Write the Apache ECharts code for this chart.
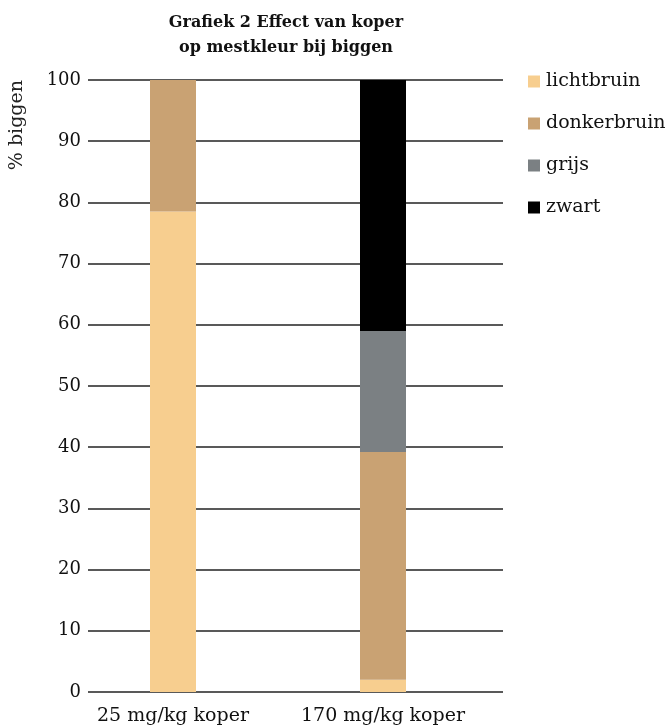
<!DOCTYPE html>
<html>
<head>
<meta charset="utf-8">
<script src="https://cdn.jsdelivr.net/npm/echarts@6/dist/echarts.min.js"></script>
<style>html,body{margin:0;padding:0;background:#fff;}#chart{width:670px;height:727px;}</style>
</head>
<body>
<div id="chart"></div>
<script>
const categories = ['25 mg/kg koper', '170 mg/kg koper'];
const seriesNames = ['lichtbruin', 'donkerbruin', 'grijs', 'zwart'];
const lichtbruin = [78.5, 2];
const donkerbruin = [21.5, 37.2];
const grijs = [0, 19.8];
const zwart = [0, 41];
const yTicks = [0, 100, 10];
const colors = ['#F7CE8F', '#C9A273', '#7B8083', '#000000'];
const FONT = 'DejaVu Serif';

const values = [lichtbruin, donkerbruin, grijs, zwart];
const chart = echarts.init(document.getElementById('chart'), null, {renderer: 'canvas'});
chart.setOption({
  animation: false,
  textStyle: {fontFamily: FONT},
  title: {
    text: 'Grafiek 2 Effect van koper\nop mestkleur bij biggen',
    left: 281, top: 5, textAlign: 'center',
    textStyle: {fontFamily: FONT, fontWeight: 'bold', fontSize: 16, lineHeight: 25, color: '#111'}
  },
  legend: {
    orient: 'vertical', left: 523, top: 67, itemWidth: 12, itemHeight: 12, itemGap: 23,
    icon: 'rect',
    data: seriesNames,
    textStyle: {fontFamily: FONT, fontSize: 19, color: '#111', padding: [0, 0, 0, 1]}
  },
  graphic: [{
    type: 'text', left: 8, top: 80, rotation: Math.PI / 2,
    style: {text: '% biggen', font: '19px "DejaVu Serif"', fill: '#222'}
  }],
  grid: [
    {left: 88, right: 167, top: 80, bottom: 35},
    {left: 68, right: 182, top: 80, bottom: 35}
  ],
  xAxis: [
    {type: 'category', gridIndex: 0, data: categories, show: false},
    {type: 'category', gridIndex: 1, data: categories,
     axisLine: {show: false}, axisTick: {show: false},
     axisLabel: {interval: 0, hideOverlap: false, fontFamily: FONT, fontSize: 19, color: '#111', margin: 15}}
  ],
  yAxis: [
    {type: 'value', gridIndex: 0, min: yTicks[0], max: yTicks[1], interval: yTicks[2],
     axisLine: {show: false}, axisTick: {show: false},
     axisLabel: {fontFamily: FONT, fontSize: 18, color: '#111', margin: 7},
     splitLine: {lineStyle: {color: '#222', width: 1.5}}},
    {type: 'value', gridIndex: 1, min: yTicks[0], max: yTicks[1], show: false, splitLine: {show: false}}
  ],
  series: seriesNames.map((n, i) => ({
    name: n, type: 'bar', stack: 'a', xAxisIndex: 1, yAxisIndex: 1,
    barWidth: 46, data: values[i], itemStyle: {color: colors[i]}
  }))
});
</script>
</body>
</html>
